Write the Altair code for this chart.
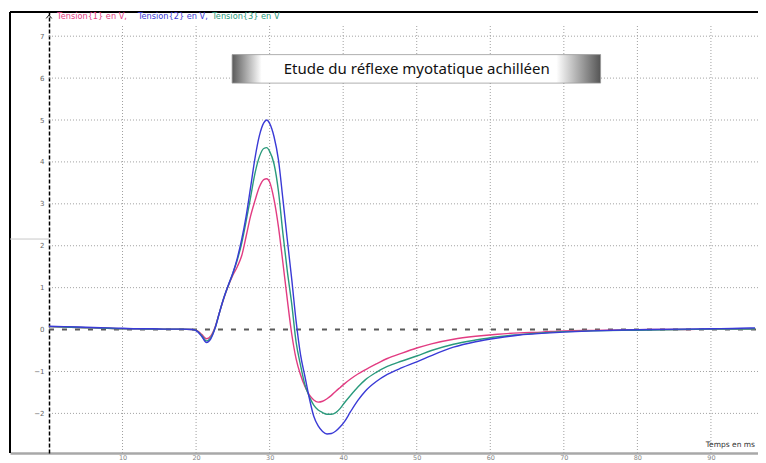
import altair as alt
import pandas as pd

# ---------------- data ----------------
t_ms = [0, 2, 4, 6, 8, 10, 12, 14, 16, 18,
        19.5, 20.2, 20.8, 21.4, 22.0, 22.6, 23.2, 23.8, 24.4,
        25.0, 25.6, 26.2, 26.8, 27.4, 28.0, 28.6, 29.2, 29.6, 30.0,
        30.6, 31.2, 31.8, 32.4, 33.0, 33.6, 34.2, 34.8, 35.4, 36.0,
        36.6, 37.2, 37.8, 38.4, 39.0, 39.6, 40.2, 41.0, 42.0, 43.0,
        44.5, 46, 48, 50, 52, 55, 58, 61, 64, 67,
        70, 74, 78, 82, 86, 90, 94, 96]

tension1 = [0.07, 0.06, 0.05, 0.04, 0.03, 0.02, 0.02, 0.01, 0.01, 0.01,
            0.0, -0.03, -0.12, -0.22, -0.15, 0.07, 0.42, 0.76, 1.05,
            1.3, 1.5, 1.76, 2.22, 2.7, 3.07, 3.4, 3.58, 3.6, 3.52,
            3.1, 2.45, 1.6, 0.72, -0.1, -0.7, -1.08, -1.36, -1.56, -1.68,
            -1.73, -1.71, -1.65, -1.57, -1.47, -1.38, -1.29, -1.18, -1.06, -0.96,
            -0.82, -0.69, -0.56, -0.44, -0.34, -0.23, -0.16, -0.11, -0.08, -0.06,
            -0.03, -0.02, -0.01, 0.0, 0.0, 0.01, 0.01, 0.02]

tension2 = [0.08, 0.07, 0.06, 0.05, 0.04, 0.03, 0.02, 0.02, 0.01, 0.01,
            0.0, -0.05, -0.17, -0.31, -0.22, 0.04, 0.42, 0.77, 1.07,
            1.35, 1.7, 2.15, 2.7, 3.38, 4.08, 4.62, 4.93, 5.0, 4.92,
            4.6, 4.05, 3.12, 2.15, 1.21, 0.2, -0.6, -1.12, -1.64, -2.07,
            -2.3, -2.43, -2.49, -2.48, -2.42, -2.32, -2.19, -1.96, -1.69, -1.47,
            -1.24, -1.07, -0.91, -0.77, -0.62, -0.42, -0.29, -0.2, -0.13, -0.09,
            -0.06, -0.03, -0.01, 0.0, 0.01, 0.02, 0.03, 0.04]

tension3 = [0.07, 0.06, 0.05, 0.04, 0.03, 0.02, 0.02, 0.01, 0.01, 0.01,
            0.0, -0.04, -0.15, -0.27, -0.19, 0.05, 0.42, 0.77, 1.06,
            1.34, 1.66, 2.06, 2.58, 3.15, 3.72, 4.12, 4.32, 4.34, 4.25,
            3.95, 3.3, 2.3, 1.4, 0.62, -0.3, -0.85, -1.32, -1.6, -1.8,
            -1.92, -1.98, -2.02, -2.02, -1.98, -1.88, -1.74, -1.57, -1.37, -1.2,
            -1.02, -0.88, -0.75, -0.63, -0.5, -0.35, -0.25, -0.17, -0.12, -0.08,
            -0.05, -0.03, -0.02, -0.01, 0.0, 0.01, 0.01, 0.02]

series_names = ["Tension{1} en V,", "Tension{2} en V,", "Tension{3} en V"]
series_colors = ["#e23c82", "#3a3ad6", "#2a9a7c"]
legend_x = [1.1, 12.1, 22.2]

x_ticks = [10, 20, 30, 40, 50, 60, 70, 80, 90]
y_ticks = [-2, -1, 0, 1, 2, 3, 4, 5, 6, 7]
y_grid = [-2, -1, 1, 2, 3, 4, 5, 6, 7]

title_text = "Etude du réflexe myotatique achilléen"
x_label_text = "Temps en ms"

X_MIN, X_MAX = -5.3, 96.4
Y_MIN, Y_MAX = -2.945, 7.577

xs = alt.Scale(domain=[X_MIN, X_MAX], nice=False, zero=False)
ys = alt.Scale(domain=[Y_MIN, Y_MAX], nice=False, zero=False)

x_axis = alt.Axis(values=x_ticks, title=None, grid=False, ticks=False,
                  domainColor="#a8a8a8", domainWidth=2.5, labelFontSize=6.5,
                  labelColor="#888", labelPadding=1, labelFont="DejaVu Sans")
y_axis = alt.Axis(values=y_ticks, title=None, grid=False, ticks=False, offset=-39,
                  domainColor="black", domainDash=[4, 2], domainWidth=1.5,
                  labelFontSize=7, labelColor="#666", labelPadding=5,
                  labelFont="DejaVu Sans")


def X(field):
    return alt.X(field, type="quantitative", scale=xs, title=None)


def Y(field):
    return alt.Y(field, type="quantitative", scale=ys, title=None)


# ---------------- layers ----------------
# axes carrier (invisible point at origin)
axes_layer = alt.Chart(pd.DataFrame({"t": [0.0], "v": [0.0]})).mark_point(opacity=0).encode(
    x=alt.X("t", type="quantitative", scale=xs, title=None, axis=x_axis),
    y=alt.Y("v", type="quantitative", scale=ys, title=None, axis=y_axis))

# frame (left + top) and small artefact line
frame_v = alt.Chart(pd.DataFrame({"t": [X_MIN], "v": [Y_MIN], "v2": [Y_MAX]})).mark_rule(
    color="black", strokeWidth=2).encode(x=X("t"), y=Y("v"), y2="v2")
frame_h = alt.Chart(pd.DataFrame({"t": [X_MIN], "t2": [X_MAX], "v": [Y_MAX]})).mark_rule(
    color="black", strokeWidth=2).encode(x=X("t"), x2="t2", y=Y("v"))
artefact = alt.Chart(pd.DataFrame({"t": [X_MIN], "t2": [0], "v": [2.16]})).mark_rule(
    color="#c8c8c8", strokeWidth=1).encode(x=X("t"), x2="t2", y=Y("v"))

# grid
hgrid = alt.Chart(pd.DataFrame({"v": y_grid, "t": [0] * len(y_grid), "t2": [X_MAX] * len(y_grid)})).mark_rule(
    color="#a0a0a0", strokeWidth=1, strokeDash=[1, 2]).encode(x=X("t"), x2="t2", y=Y("v"))
vgrid = alt.Chart(pd.DataFrame({"t": x_ticks, "v": [Y_MIN] * len(x_ticks), "v2": [7.25] * len(x_ticks)})).mark_rule(
    color="#a0a0a0", strokeWidth=1, strokeDash=[1, 2]).encode(x=X("t"), y=Y("v"), y2="v2")

zero_line = alt.Chart(pd.DataFrame({"t": [0], "t2": [X_MAX], "v": [0]})).mark_rule(
    color="#5a5a5a", strokeWidth=2, strokeDash=[5, 8]).encode(x=X("t"), x2="t2", y=Y("v"))

arrow = alt.Chart(pd.DataFrame({"t": [0], "v": [7.47]})).mark_point(
    shape="M-1,0.7L0,-0.5L1,0.7", filled=False, color="black", strokeWidth=1, size=30, opacity=1).encode(
    x=X("t"), y=Y("v"))


def curve(values, color):
    return alt.Chart(pd.DataFrame({"t": t_ms, "v": values})).mark_line(
        color=color, strokeWidth=1.4, interpolate="monotone").encode(x=X("t"), y=Y("v"))


lines = [curve(tension1, series_colors[0]),
         curve(tension3, series_colors[2]),
         curve(tension2, series_colors[1])]

# title box with gradient
box = alt.Chart(pd.DataFrame({"t": [24.9], "t2": [75.0], "v": [6.56], "v2": [5.88]})).mark_rect(
    fill=alt.Gradient(gradient="linear", x1=0, x2=1, y1=0, y2=0,
                      stops=[alt.GradientStop(color="#5a5a5a", offset=0),
                             alt.GradientStop(color="#ffffff", offset=0.08),
                             alt.GradientStop(color="#ffffff", offset=0.88),
                             alt.GradientStop(color="#555555", offset=1)]),
    stroke="#9a9a9a", strokeWidth=0.8).encode(x=X("t"), x2="t2", y=Y("v"), y2="v2")
title = alt.Chart(pd.DataFrame({"t": [50.0], "v": [6.22], "txt": [title_text]})).mark_text(
    font="Comic Sans MS, Noto Sans", fontSize=15, color="#111", align="center", baseline="middle").encode(
    x=X("t"), y=Y("v"), text="txt:N")

legend = alt.Chart(pd.DataFrame({"t": legend_x, "v": [7.46] * 3, "txt": series_names})).mark_text(
    font="DejaVu Sans", fontSize=8.2, align="left", baseline="middle").encode(
    x=X("t"), y=Y("v"), text="txt:N",
    color=alt.Color("txt:N", scale=alt.Scale(domain=series_names, range=series_colors), legend=None))

xlabel = alt.Chart(pd.DataFrame({"t": [89.3], "v": [-2.755], "txt": [x_label_text]})).mark_text(
    font="DejaVu Sans", fontSize=7.5, color="#333", align="left", baseline="middle").encode(
    x=X("t"), y=Y("v"), text="txt:N")

chart = alt.layer(axes_layer, frame_v, frame_h, artefact, hgrid, vgrid, zero_line, *lines,
                  box, title, legend, xlabel, arrow).properties(
    width=748, height=441,
    padding={"left": 2, "top": 4, "right": 0, "bottom": 8},
    autosize=alt.AutoSizeParams(type="none"),
    background="white",
).configure_view(stroke=None)

chart.save("out.html", embed_options={"renderer": "svg", "actions": False})
